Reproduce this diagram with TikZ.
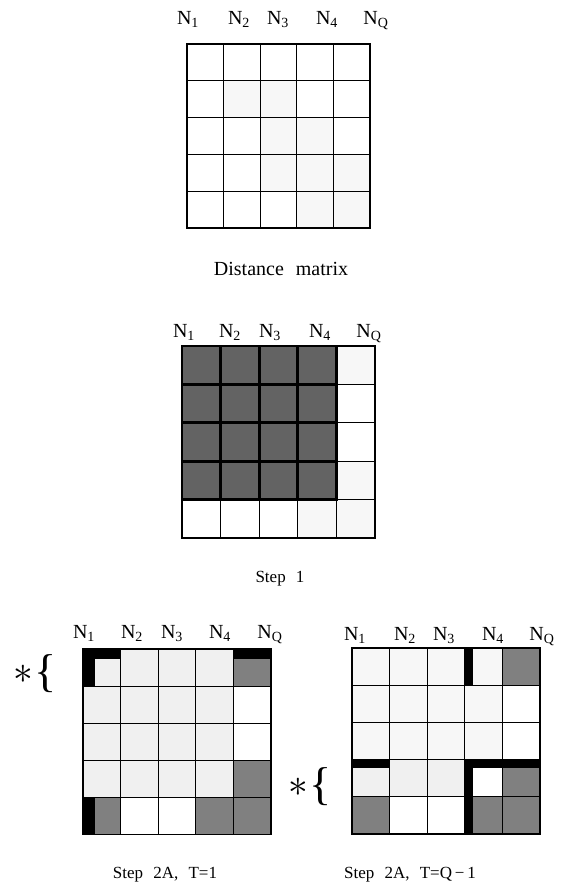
\documentclass[tikz,border=0pt]{standalone}
\usepackage{fontspec}
\setmainfont{Liberation Serif}
\usetikzlibrary{positioning}

\begin{document}
\begin{tikzpicture}[
    x=1pt, y=-1pt,
    lbl/.style={anchor=base, inner sep=0pt, font=\fontsize{20}{20}\selectfont},
    caption/.style={anchor=base, inner sep=0pt, font=\fontsize{17}{17}\selectfont,
      execute at begin node={\spaceskip=0.6em\relax}},
    star/.style={inner sep=0pt, font=\fontsize{20}{20}\selectfont},
    brace/.style={inner sep=0pt, font=\fontsize{46}{46}\selectfont},
    cell/.style={line width=1.2pt, line cap=rect},
    heavy/.style={line width=2.8pt, line cap=rect},
    faint/.style={fill=gray!6},
    light/.style={fill=gray!12},
    dark/.style={fill=black!50},
    darker/.style={fill=black!61},
    bar/.style={fill=black}
  ]
  \useasboundingbox (0,0) rectangle (562,892);

  % distance matrix
  \foreach \xx/\t [count=\i] in {188/1,239/2,278/3,327/4,376/Q}
    \node[lbl] (ma\i) at (\xx,24) {N\textsubscript{\t}};
  \begin{scope}[shift={(187,44)}, x=36.6pt, y=-36.8pt]
    \foreach \cx/\ry in {2/2,3/2,3/3,4/3,3/4,4/4,5/4,4/5,5/5}
      \fill[faint] (\cx-1,\ry-1) rectangle (\cx,\ry);
    \foreach \i in {0,...,5} {
      \draw[cell] (\i,0) -- (\i,5);
      \draw[cell] (0,\i) -- (5,\i);
    }
  \end{scope}
  \node[caption, font=\fontsize{20}{20}\selectfont] (capa) at (281,275) {Distance matrix};

  % step 1
  \foreach \xx/\t [count=\i] in {184/1,230/2,270/3,320/4,369/Q}
    \node[lbl] (mb\i) at (\xx,337) {N\textsubscript{\t}};
  \begin{scope}[shift={(182,346)}, x=38.6pt, y=-38.4pt]
    \foreach \cx in {1,...,4}
      \foreach \ry in {1,...,4}
        \fill[darker] (\cx-1,\ry-1) rectangle (\cx,\ry);
    \foreach \cx/\ry in {5/1,5/4,4/5,5/5}
      \fill[faint] (\cx-1,\ry-1) rectangle (\cx,\ry);
    \foreach \i in {0,...,5} {
      \draw[cell] (\i,0) -- (\i,5);
      \draw[cell] (0,\i) -- (5,\i);
    }
    \foreach \i in {0,...,4} {
      \draw[heavy] (\i,0) -- (\i,4);
      \draw[heavy] (0,\i) -- (4,\i);
    }
  \end{scope}
  \node[caption] (capb) at (280,582) {Step 1};

  % step 2A, T=1
  \foreach \xx/\t [count=\i] in {84/1,132/2,172/3,220/4,270/Q}
    \node[lbl] (mc\i) at (\xx,638) {N\textsubscript{\t}};
  \begin{scope}[shift={(83,649)}, x=37.6pt, y=-37.1pt]
    \foreach \cx in {1,...,4}
      \foreach \ry in {1,...,4}
        \fill[light] (\cx-1,\ry-1) rectangle (\cx,\ry);
    \foreach \cx/\ry in {5/1,5/4,1/5,4/5,5/5}
      \fill[dark] (\cx-1,\ry-1) rectangle (\cx,\ry);
    \foreach \i in {0,...,5} {
      \draw[cell] (\i,0) -- (\i,5);
      \draw[cell] (0,\i) -- (5,\i);
    }
    \fill[bar] (0,0) rectangle (1,0.27);
    \fill[bar] (0,0) rectangle (0.32,1);
    \fill[bar] (4,0) rectangle (5,0.28);
    \fill[bar] (0,4) rectangle (0.32,5);
  \end{scope}
  \node[brace] (bc) at (46,674) {\{};
  \node[star, left=1pt of bc] (sc) {\scalebox{1.9}{$\ast$}};
  \node[caption] (capc) at (165,878) {Step 2A, T=1};

  % step 2A, T=Q-1
  \foreach \xx/\t [count=\i] in {355/1,405/2,444/3,493/4,542/Q}
    \node[lbl] (md\i) at (\xx,640) {N\textsubscript{\t}};
  \begin{scope}[shift={(352,648)}, x=37.6pt, y=-37.2pt]
    \foreach \cx in {1,...,4}
      \foreach \ry in {1,...,3}
        \fill[faint] (\cx-1,\ry-1) rectangle (\cx,\ry);
    \foreach \cx/\ry in {1/4,2/4,3/4}
      \fill[light] (\cx-1,\ry-1) rectangle (\cx,\ry);
    \foreach \cx/\ry in {5/1,5/4,1/5,4/5,5/5}
      \fill[dark] (\cx-1,\ry-1) rectangle (\cx,\ry);
    \foreach \i in {0,...,5} {
      \draw[cell] (\i,0) -- (\i,5);
      \draw[cell] (0,\i) -- (5,\i);
    }
    \fill[bar] (3,0) rectangle (3.22,1);
    \fill[bar] (3,3) rectangle (3.22,5);
    \fill[bar] (0,3) rectangle (1,3.23);
    \fill[bar] (3,3) rectangle (5,3.23);
  \end{scope}
  \node[brace] (bd) at (321,787) {\{};
  \node[star, left=1pt of bd] (sd) {\scalebox{1.9}{$\ast$}};
  \node[caption] (capd) at (410,878) {Step 2A, T=Q\,−\,1};
\end{tikzpicture}
\end{document}
